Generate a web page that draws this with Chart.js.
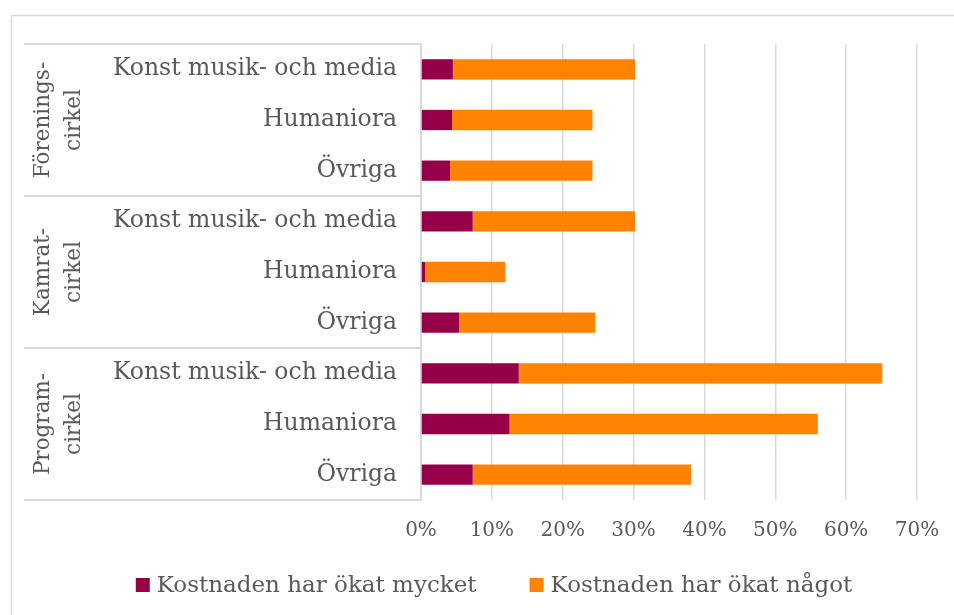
<!DOCTYPE html>
<html>
<head>
<meta charset="utf-8">
<script src="https://cdn.jsdelivr.net/npm/chart.js@4.4.1/dist/chart.umd.min.js"></script>
<style>
  html, body { margin: 0; padding: 0; background: #ffffff; }
  #wrap { width: 954px; height: 615px; }
</style>
</head>
<body>
<div id="wrap"><canvas id="c" width="954" height="615"></canvas></div>
<script>
const categories = [
  "Konst musik- och media", "Humaniora", "Övriga",
  "Konst musik- och media", "Humaniora", "Övriga",
  "Konst musik- och media", "Humaniora", "Övriga"
];
const groupLabels = [["Förenings-", "cirkel"], ["Kamrat-", "cirkel"], ["Program-", "cirkel"]];
const groupSize = 3;
const seriesNames = ["Kostnaden har ökat mycket", "Kostnaden har ökat något"];
const okatMycket = [4.5, 4.4, 4.1, 7.3, 0.6, 5.4, 13.8, 12.5, 7.3];
const okatNagot = [25.7, 19.8, 20.1, 22.9, 11.3, 19.2, 51.3, 43.5, 30.8];
const xTicks = [0, 10, 20, 30, 40, 50, 60, 70];

const FONT = "'DejaVu Serif', serif";
const TEXT = "#595959";
const LINE = "#d9d9d9";

const decor = {
  id: "decor",
  beforeDraw(chart) {
    const ctx = chart.ctx;
    ctx.save();
    ctx.strokeStyle = LINE;
    ctx.lineWidth = 1.5;
    ctx.strokeRect(11.5, 15.5, 1200, 800);
    ctx.restore();
  },
  afterDraw(chart) {
    const ctx = chart.ctx;
    const y = chart.scales.y;
    const area = chart.chartArea;
    const x0 = 24, x1 = area.left;
    ctx.save();
    ctx.strokeStyle = LINE;
    ctx.lineWidth = 2;
    const bounds = [area.top];
    for (let g = 1; g < groupLabels.length; g++) {
      const i = g * groupSize;
      bounds.push((y.getPixelForValue(i - 1) + y.getPixelForValue(i)) / 2);
    }
    bounds.push(area.bottom);
    bounds.forEach(b => {
      ctx.beginPath();
      ctx.moveTo(x0, b);
      ctx.lineTo(x1, b);
      ctx.stroke();
    });
    // group labels (rotated, two lines)
    ctx.fillStyle = TEXT;
    ctx.font = "21.5px " + FONT;
    ctx.textAlign = "center";
    ctx.textBaseline = "middle";
    groupLabels.forEach((lines, g) => {
      const cy = (bounds[g] + bounds[g + 1]) / 2;
      const xs = [43, 74];
      lines.forEach((t, k) => {
        ctx.save();
        ctx.translate(xs[k], cy);
        ctx.rotate(-Math.PI / 2);
        ctx.fillText(t, 0, 0);
        ctx.restore();
      });
    });
    // legend
    ctx.font = "23px " + FONT;
    ctx.textAlign = "left";
    const box = 14, gapBox = 7, gapItem = 53, ly = 585;
    const ds = chart.data.datasets;
    const widths = ds.map(d => ctx.measureText(d.label).width);
    let total = 0;
    widths.forEach((w, i) => { total += box + gapBox + w + (i < widths.length - 1 ? gapItem : 0); });
    let lx = 494 - total / 2;
    ds.forEach((d, i) => {
      ctx.fillStyle = d.backgroundColor;
      ctx.fillRect(lx, ly - box / 2, box, box);
      ctx.fillStyle = TEXT;
      ctx.fillText(d.label, lx + box + gapBox, ly + 1);
      lx += box + gapBox + widths[i] + gapItem;
    });
    ctx.restore();
  }
};

new Chart(document.getElementById("c"), {
  type: "bar",
  data: {
    labels: categories,
    datasets: [
      { label: seriesNames[0], data: okatMycket, backgroundColor: "#960048",
        barPercentage: 0.4, categoryPercentage: 1.0 },
      { label: seriesNames[1], data: okatNagot, backgroundColor: "#FF8200",
        barPercentage: 0.4, categoryPercentage: 1.0 }
    ]
  },
  options: {
    indexAxis: "y",
    responsive: false,
    animation: false,
    layout: { padding: { top: 44, right: 37, bottom: 55, left: 72 } },
    scales: {
      x: {
        stacked: true,
        min: 0, max: 70,
        afterBuildTicks(scale) { scale.ticks = xTicks.map(v => ({ value: v })); },
        afterFit(scale) { scale.height = 60; scale.paddingRight = 0; scale.paddingLeft = 0; },
        grid: { color: LINE, lineWidth: 1.5, drawTicks: false },
        border: { display: false },
        ticks: { color: TEXT, padding: 19, font: { family: FONT, size: 20 },
                 callback: v => v + "%" }
      },
      y: {
        stacked: true,
        afterFit(scale) { scale.width = 421 - 72; },
        grid: { display: true, drawOnChartArea: false, drawTicks: false },
        border: { display: true, color: LINE, width: 2 },
        ticks: { color: TEXT, padding: 24, font: { family: FONT, size: 23.5 } }
      }
    },
    plugins: {
      legend: { display: false },
      tooltip: { enabled: false }
    }
  },
  plugins: [decor]
});
</script>
</body>
</html>
